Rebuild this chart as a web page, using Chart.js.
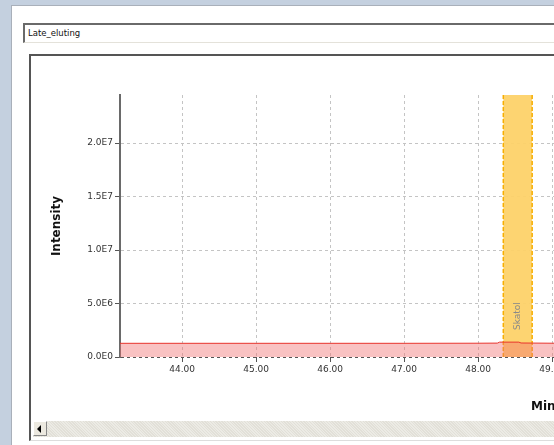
<!DOCTYPE html>
<html>
<head>
<meta charset="utf-8">
<script src="https://cdn.jsdelivr.net/npm/chart.js@4.4.1/dist/chart.umd.min.js"></script>
<style>
  html, body { margin: 0; padding: 0; }
  body { width: 554px; height: 445px; overflow: hidden; background: #c4d0df; position: relative; font-family: "DejaVu Sans", sans-serif; }
  #fenetre { position: absolute; left: 11px; top: 5px; width: 1200px; height: 460px; background: #fff; border-left: 1px solid #a9b0ba; border-top: 1px solid #a9b0ba; }
  #titre { position: absolute; left: 23px; top: 23px; width: 1100px; height: 17px; border-top: 2px solid #6a6a6a; border-left: 2px solid #6a6a6a; border-bottom: 1px solid #e4e2da; background: #fff; font-size: 8.5px; line-height: 17px; color: #111; padding-left: 3px; }
  #cadre { position: absolute; left: 29px; top: 54px; width: 1100px; height: 384px; border-top: 2px solid #555; border-left: 2px solid #555; border-bottom: 1px solid #ddd; background: #fff; }
  #zone { position: absolute; left: 31px; top: 56px; width: 980px; height: 362px; }
  #defil { position: absolute; left: 33px; top: 421px; width: 1100px; height: 16px; background: repeating-linear-gradient(45deg, #e2e0d8 0 1px, #ecebe5 1px 2px); }
  #bouton { position: absolute; left: 33px; top: 421px; width: 14px; height: 15px; background: #ece9e0; border: 1px solid #fff; border-right-color: #888; border-bottom-color: #888; box-sizing: border-box; }
  #bouton:after { content: ""; position: absolute; left: 3px; top: 3px; border-top: 4px solid transparent; border-bottom: 4px solid transparent; border-right: 4px solid #000; }
</style>
</head>
<body>
<div id="fenetre"></div>
<div id="titre">Late_eluting</div>
<div id="cadre"></div>
<div id="zone"><canvas id="chromato" width="980" height="362"></canvas></div>
<div id="defil"></div>
<div id="bouton"></div>
<script>
// trace du signal (minutes / intensité)
const temps = [43.0, 44.0, 45.0, 46.0, 47.0, 48.0, 48.26, 48.29, 48.55, 48.58, 49.0, 50.0, 51.0, 52.0, 53.0, 54.0, 55.0];
const intensite = [1.28e6, 1.28e6, 1.28e6, 1.28e6, 1.28e6, 1.29e6, 1.30e6, 1.39e6, 1.39e6, 1.31e6, 1.29e6, 1.29e6, 1.29e6, 1.29e6, 1.29e6, 1.29e6, 1.29e6];

// fenêtre d'intégration des pics
const nomsPics = ['Skatol'];
const debutPics = [48.34];
const finPics = [48.73];

const ticksY = [0, 5e6, 1e7, 1.5e7, 2e7];
const ticksX = [44, 45, 46, 47, 48, 49, 50, 51, 52, 53, 54, 55];

const pointsSignal = temps.map((t, i) => ({ x: t, y: intensite[i] }));

// dessine les bandes des pics sous la trace
const bandesPics = {
    id: 'bandesPics',
    beforeDatasetsDraw(chart) {
        const { ctx, chartArea, scales } = chart;
        const y0 = scales.y.getPixelForValue(0);
        ctx.save();
        nomsPics.forEach((nom, i) => {
            const x1 = scales.x.getPixelForValue(debutPics[i]);
            const x2 = scales.x.getPixelForValue(finPics[i]);
            ctx.fillStyle = 'rgba(253, 210, 105, 0.95)';
            ctx.fillRect(x1, chartArea.top, x2 - x1, y0 - chartArea.top);
            ctx.strokeStyle = '#f7ae00';
            ctx.lineWidth = 1.5;
            ctx.setLineDash([4, 2]);
            ctx.beginPath();
            ctx.moveTo(x1, chartArea.top); ctx.lineTo(x1, y0);
            ctx.moveTo(x2, chartArea.top); ctx.lineTo(x2, y0);
            ctx.stroke();
            ctx.setLineDash([]);
            ctx.translate((x1 + x2) / 2, y0 - 27);
            ctx.rotate(-Math.PI / 2);
            ctx.fillStyle = '#8a8a8a';
            ctx.font = '9px "DejaVu Sans"';
            ctx.textAlign = 'left';
            ctx.textBaseline = 'middle';
            ctx.fillText(nom, 0, 0);
            ctx.setTransform(1, 0, 0, 1, 0, 0);
        });
        ctx.restore();
    }
};

const ctx = document.getElementById('chromato').getContext('2d');
new Chart(ctx, {
    type: 'line',
    data: {
        datasets: [{
            label: 'Late_eluting',
            data: pointsSignal,
            borderColor: '#e8342c',
            borderWidth: 1,
            backgroundColor: 'rgba(240, 110, 110, 0.42)',
            fill: 'origin',
            pointRadius: 0,
            tension: 0
        }]
    },
    options: {
        responsive: false,
        animation: false,
        layout: { padding: { top: 39, right: 11, left: 0, bottom: 0 } },
        plugins: {
            legend: { display: false },
            tooltip: { enabled: false }
        },
        scales: {
            x: {
                type: 'linear',
                min: 43.16,
                max: 55.0,
                afterFit: (scale) => { scale.height = 61; },
                afterBuildTicks: (scale) => { scale.ticks = ticksX.map(v => ({ value: v })); },
                ticks: {
                    color: '#333',
                    font: { family: 'DejaVu Sans', size: 9 },
                    padding: 2,
                    callback: (v) => Number(v).toFixed(2)
                },
                grid: {
                    color: '#c4c4c4',
                    tickColor: '#555',
                    tickBorderDash: [],
                    tickLength: 5
                },
                border: { display: false, dash: [3, 3] },
                title: {
                    display: true,
                    text: 'Minutes',
                    color: '#111',
                    font: { family: 'DejaVu Sans', size: 12, weight: 'bold' },
                    padding: { top: 0, bottom: 4 }
                }
            },
            y: {
                type: 'linear',
                min: 0,
                max: 2.45e7,
                afterFit: (scale) => { scale.width = 89; },
                afterBuildTicks: (scale) => { scale.ticks = ticksY.map(v => ({ value: v })); },
                ticks: {
                    color: '#333',
                    font: { family: 'DejaVu Sans', size: 9 },
                    padding: 2,
                    callback: (v) => Number(v).toExponential(1).toUpperCase().replace('+', '')
                },
                grid: {
                    color: (c) => (c.tick && c.tick.value === 0 ? '#555' : '#c4c4c4'),
                    tickColor: '#555',
                    tickBorderDash: [],
                    tickLength: 5
                },
                border: { display: true, color: '#6a6a6a', width: 2, dash: [3, 3] },
                title: {
                    display: true,
                    text: 'Intensity',
                    color: '#111',
                    font: { family: 'DejaVu Sans', size: 12, weight: 'bold' },
                    padding: { top: 19, bottom: 0 }
                }
            }
        }
    },
    plugins: [bandesPics]
});
</script>
</body>
</html>
